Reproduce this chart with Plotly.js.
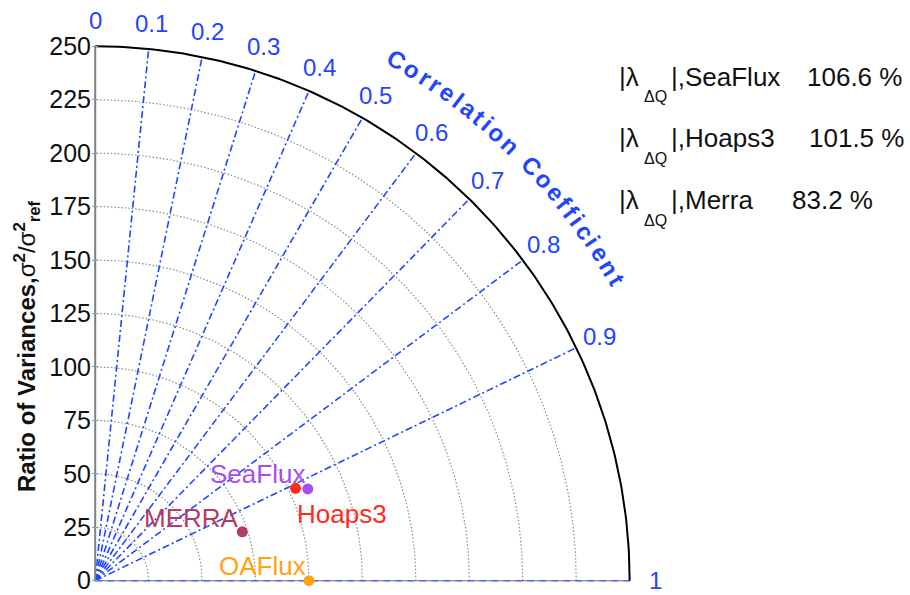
<!DOCTYPE html>
<html><head><meta charset="utf-8">
<script src="https://cdn.plot.ly/plotly-3.0.1.min.js"></script>
<style>html,body{margin:0;padding:0;background:#fff;} #chart{width:910px;height:595px;}</style>
</head><body><div id="chart"></div>
<script>
// ---------- data ----------
const models = ['SeaFlux', 'Hoaps3', 'MERRA', 'OAFlux'];
const varianceRatio = [108.3, 103.2, 72.5, 100.0];   // radius (%)
const correlation = [0.918, 0.908, 0.949, 1.0];       // angle
const corrTicks = [0, 0.1, 0.2, 0.3, 0.4, 0.5, 0.6, 0.7, 0.8, 0.9, 1];
const corrTickLabels = ['0', '0.1', '0.2', '0.3', '0.4', '0.5', '0.6', '0.7', '0.8', '0.9', '1'];
const radialTicks = [0, 25, 50, 75, 100, 125, 150, 175, 200, 225, 250];
const lambdaNames = ['SeaFlux', 'Hoaps3', 'Merra'];
const lambdaValues = ['106.6', '101.5', '83.2'];

// ---------- style / geometry ----------
const modelColors = ['#a550ee', '#ff2a1a', '#b23c62', '#ffa310'];
const labelShift = [[-50, 15], [46, -26], [-51, 14], [-46, 15]];
const BLUE = '#1f45ff';
const FONT = '"Liberation Sans", Arial, Helvetica, sans-serif';
const rMax = radialTicks[radialTicks.length - 1];
const M = {l: 92, r: 273, t: 42, b: 10};
const W = 910, H = 595;
const PW = W - M.l - M.r, PH = H - M.t - M.b;
const yR = [-2, 252];
const K = PH / (yR[1] - yR[0]);           // px per unit
const xR = [-1.5, -1.5 + PW / K];
const px = x => (x - xR[0]) / (xR[1] - xR[0]);   // data -> paper
const py = y => (y - yR[0]) / (yR[1] - yR[0]);
const ppx = p => (p - M.l) / PW;                 // pixel -> paper
const ppy = p => 1 - (p - M.t) / PH;

function pt(r, c) { const th = Math.acos(c); return [r * Math.cos(th), r * Math.sin(th)]; }
function arc(rr) {
  const xs = [], ys = [];
  for (let a = 0; a <= 90.001; a += 0.5) { xs.push(rr * Math.cos(a * Math.PI / 180)); ys.push(rr * Math.sin(a * Math.PI / 180)); }
  return [xs, ys];
}

const traces = [];
radialTicks.slice(1, -1).forEach(rr => {
  const [xs, ys] = arc(rr);
  traces.push({x: xs, y: ys, mode: 'lines', line: {color: '#8a8a8a', width: 1.2, dash: '1.5px,2px'}, hoverinfo: 'skip'});
});
corrTicks.forEach(c => {
  if (c <= 0 || c >= 1) return;
  const e = pt(rMax, c);
  traces.push({x: [0, e[0]], y: [0, e[1]], mode: 'lines', line: {color: BLUE, width: 1.6, dash: '7px,3px,2px,3px'}, hoverinfo: 'skip'});
});
traces.push({x: [0, rMax], y: [0, 0], mode: 'lines', line: {color: '#707070', width: 1}, hoverinfo: 'skip'});
traces.push({x: [0, rMax], y: [0, 0], mode: 'lines', line: {color: '#4d6ef0', width: 1.6, dash: '7px,5px'}, hoverinfo: 'skip'});
traces.push({x: [0, 0], y: [0, rMax], mode: 'lines', line: {color: '#808080', width: 2}, hoverinfo: 'skip'});
(() => { const [xs, ys] = arc(rMax);
  traces.push({x: xs, y: ys, mode: 'lines', line: {color: '#000', width: 2}, hoverinfo: 'skip'}); })();
traces.push({
  x: models.map((m, i) => pt(varianceRatio[i], correlation[i])[0]),
  y: models.map((m, i) => pt(varianceRatio[i], correlation[i])[1]),
  mode: 'markers', cliponaxis: false,
  marker: {color: modelColors, size: 11},
  text: models, hoverinfo: 'text'
});

const ann = [];
models.forEach((m, i) => {
  const p = pt(varianceRatio[i], correlation[i]);
  ann.push({x: px(p[0]), y: py(p[1]), xref: 'paper', yref: 'paper', text: m, showarrow: false,
    xanchor: 'center', yanchor: 'middle',
    xshift: labelShift[i][0], yshift: labelShift[i][1],
    font: {family: FONT, size: 26, color: modelColors[i]}});
});
const labR = 262;
corrTicks.forEach((c, i) => {
  const p = pt(labR, c);
  ann.push({x: px(p[0]), y: py(p[1]), xref: 'paper', yref: 'paper', text: corrTickLabels[i], showarrow: false,
    xanchor: 'center', yanchor: 'middle', font: {family: FONT, size: 24, color: BLUE}});
});
(() => {
  const txt = 'Correlation Coefficient';
  const bw = {C: .722, o: .611, r: .389, e: .556, l: .278, a: .556, t: .333, i: .278, n: .611, ' ': .278, f: .333, c: .556};
  const fs = 24, sp = 3.1, R = 281.6;
  const centers = []; let cur = 0;
  for (const ch of txt) { const w = bw[ch] * fs; centers.push(cur + w / 2); cur += w + sp; }
  const c0 = centers[0], c1 = centers[centers.length - 1];
  [...txt].forEach((ch, i) => {
    if (ch === ' ') return;
    const th = 60 - 30 * (centers[i] - c0) / (c1 - c0);
    const t = th * Math.PI / 180;
    ann.push({x: px(R * Math.cos(t)), y: py(R * Math.sin(t)), xref: 'paper', yref: 'paper', text: '<b>' + ch + '</b>',
      showarrow: false, textangle: 90 - th, xanchor: 'center', yanchor: 'middle',
      font: {family: FONT, size: fs, color: BLUE}});
  });
})();
ann.push({xref: 'paper', yref: 'paper', x: ppx(27), y: ppy(346), xanchor: 'center', yanchor: 'middle',
  text: '<b>Ratio of Variances,</b>σ<sup><b>2</b></sup>/σ<sup><b>2</b></sup><sub><b>ref</b></sub>', textangle: -90, showarrow: false,
  font: {family: FONT, size: 24, color: '#111'}});
const lamY = [77, 138, 200];
const numX = [805, 807, 790];
lambdaNames.forEach((n, i) => {
  const yc = lamY[i];
  ann.push({xref: 'paper', yref: 'paper', x: ppx(617), y: ppy(yc), xanchor: 'left', yanchor: 'middle',
    text: '|λ', showarrow: false, font: {family: FONT, size: 26, color: '#111'}});
  ann.push({xref: 'paper', yref: 'paper', x: ppx(642), y: ppy(yc + 20), xanchor: 'left', yanchor: 'middle',
    text: 'ΔQ', showarrow: false, font: {family: FONT, size: 16, color: '#111'}});
  ann.push({xref: 'paper', yref: 'paper', x: ppx(669), y: ppy(yc), xanchor: 'left', yanchor: 'middle',
    text: '|,' + n, showarrow: false, font: {family: FONT, size: 26, color: '#111'}});
  ann.push({xref: 'paper', yref: 'paper', x: ppx(numX[i]), y: ppy(yc), xanchor: 'left', yanchor: 'middle',
    text: lambdaValues[i] + ' %', showarrow: false, font: {family: FONT, size: 26, color: '#111'}});
});

const layout = {
  width: W, height: H,
  margin: M,
  paper_bgcolor: '#fff', plot_bgcolor: '#fff',
  showlegend: false,
  xaxis: {range: xR, showgrid: false, zeroline: false, showticklabels: false, showline: false, fixedrange: true},
  yaxis: {range: yR, showgrid: false, zeroline: false, showline: false, fixedrange: true,
    tickmode: 'array', tickvals: radialTicks, ticktext: radialTicks.map(String),
    ticks: 'inside', ticklen: 6, tickcolor: '#999', tickwidth: 1,
    tickfont: {family: FONT, size: 25, color: '#111'}},
  annotations: ann
};
Plotly.newPlot('chart', traces, layout, {displayModeBar: false, staticPlot: true});
</script></body></html>
